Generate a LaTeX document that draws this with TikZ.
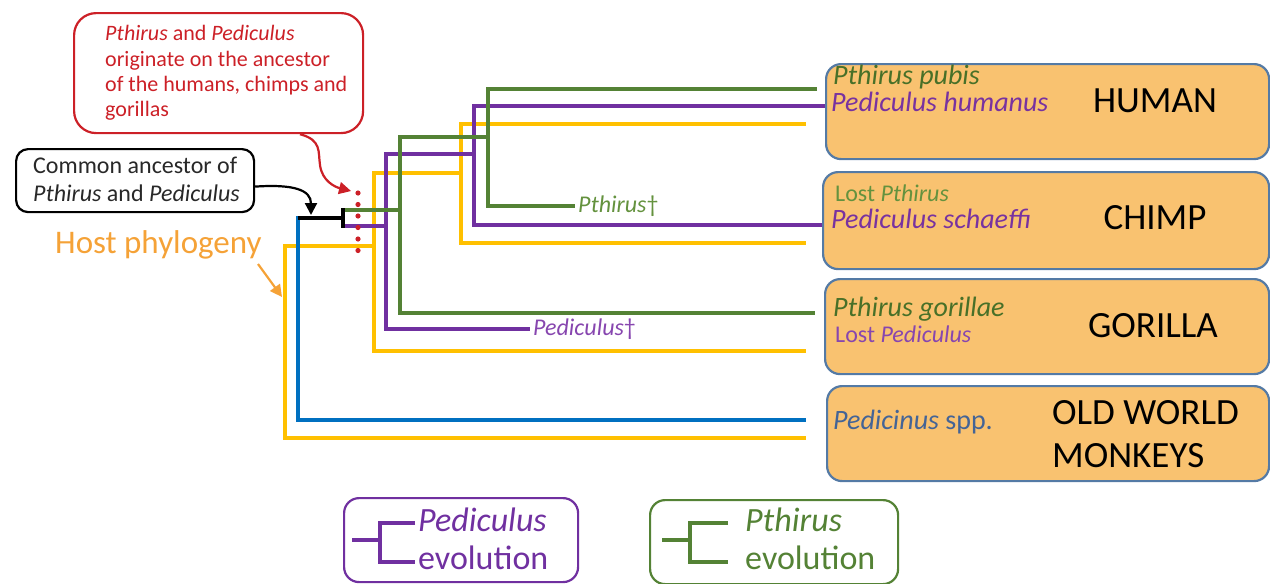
\documentclass[tikz,border=0pt]{standalone}
\usepackage{fontspec}
\setmainfont{Carlito}
\usetikzlibrary{arrows.meta}
\definecolor{lgreen}{RGB}{84,130,53}
\definecolor{lpurple}{RGB}{112,48,160}
\definecolor{lyellow}{RGB}{255,192,0}
\definecolor{lblue}{RGB}{0,112,192}
\definecolor{boxfill}{RGB}{249,194,112}
\definecolor{boxline}{RGB}{84,122,165}
\definecolor{cred}{RGB}{204,32,39}
\definecolor{corange}{RGB}{245,162,55}
\definecolor{tgreen}{RGB}{72,112,40}
\definecolor{tgreenl}{RGB}{100,146,62}
\definecolor{tpurple}{RGB}{120,50,160}
\definecolor{tpurplel}{RGB}{135,70,175}
\definecolor{tblue}{RGB}{68,100,150}
\definecolor{tdark}{RGB}{40,40,40}
\newcommand{\fsz}[2]{\fontsize{#1}{#2}\selectfont}
\begin{document}
\begin{tikzpicture}[x=1pt,y=-1pt,
  tree/.style={line width=3.4pt},
  hostbox/.style={draw=boxline, line width=2.2pt, fill=boxfill, rounded corners=15pt, anchor=north west, inner sep=0pt},
  spec/.style={anchor=west, inner sep=0pt, font=\fsz{28}{29}\itshape},
  small/.style={anchor=west, inner sep=0pt, font=\fsz{24}{26}},
  host/.style={inner sep=0pt, font=\fsz{37}{43}, text=black},
  legbox/.style={draw, line width=2.2pt, rounded corners=15pt, anchor=north west, inner sep=0pt},
  legtext/.style={anchor=west, inner sep=0pt, font=\fsz{34}{38}},
  arr/.style={line width=2.2pt, -{Triangle[length=12pt,width=12pt]}},
]
\useasboundingbox (0,0) rectangle (1270,584);

% host boxes
\node[hostbox, minimum width=443pt, minimum height=95pt] (human) at (825,63) {};
\node[hostbox, minimum width=446pt, minimum height=97pt] (chimp) at (822,171) {};
\node[hostbox, minimum width=444pt, minimum height=95pt] (gorilla) at (824,278) {};
\node[hostbox, minimum width=442pt, minimum height=95pt] (owm) at (826,385) {};

% texts in host boxes
\node[spec, text=tgreen] (ppubis) at (833,77) {Pthirus pubis};
\node[spec, text=tpurple] (phum) at (831,102) {Pediculus humanus};
\node[host] (humanlab) at (1155,101) {HUMAN};
\node[small, text=tgreenl] (lostpth) at (835,193) {Lost \textit{Pthirus}};
\node[spec, text=tpurple] (psch) at (831,219) {Pediculus schaeffi};
\node[host] (chimplab) at (1155,218) {CHIMP};
\node[spec, text=tgreen] (pgor) at (833,309) {Pthirus gorillae};
\node[small, text=tpurplel] (lostped) at (835,334) {Lost \textit{Pediculus}};
\node[host] (gorlab) at (1153,326) {GORILLA};
\node[spec, text=tblue] (pedic) at (833,422) {Pedicinus \upshape spp.};
\node[host, anchor=west, align=left] (owmlab) at (1052,434) {OLD WORLD\\MONKEYS};

% yellow host tree
\draw[tree, lyellow] (806,124) -- (461,124) -- (461,243) -- (806,243);
\draw[tree, lyellow] (461,173) -- (374,173) -- (374,351) -- (806,351);
\draw[tree, lyellow] (374,246) -- (285,246) -- (285,438) -- (806,438);
% blue
\draw[tree, lblue] (343,218) -- (298,218) -- (298,420) -- (806,420);
\draw[tree, black] (343,218) -- (298,218);
% purple tree
\draw[tree, lpurple] (human.west |- 0,106) -- (474,106) -- (474,225) -- (chimp.west |- 0,225);
\draw[tree, lpurple] (474,154) -- (386,154) -- (386,329) -- (530,329) coordinate (pedend);
\draw[tree, lpurple] (386,226) -- (343,226);
% green tree
\draw[tree, lgreen] (817,89) -- (488,89) -- (488,206) -- (575,206) coordinate (pthend);
\draw[tree, lgreen] (488,137) -- (400,137) -- (400,313) -- (815,313);
\draw[tree, lgreen] (400,210) -- (343,210);
% black tick
\draw[tree, black] (343,208.3) -- (343,227.7);

\node[anchor=west, inner sep=0pt, text=tgreenl, font=\fsz{24}{26}] (pthdead) at ([xshift=3pt]pthend) {\textit{Pthirus}†};
\node[anchor=west, inner sep=0pt, text=tpurplel, font=\fsz{24}{26}] (peddead) at ([xshift=3pt]pedend) {\textit{Pediculus}†};

% red dotted line
\foreach \yy in {193,204.5,216,227.5,239,250.5}
  \fill[cred] (358,\yy) circle (2.6pt);

% red callout
\node[draw=cred, line width=2.2pt, rounded corners=22pt, anchor=north west,
  minimum width=289pt, minimum height=120pt, inner sep=0pt] (note) at (73,12) {};
\node[anchor=west, inner sep=0pt, align=left, text=cred, font=\fsz{22}{25.5}] (notetext) at (105,73)
  {\textit{Pthirus} and \textit{Pediculus}\\originate on the ancestor\\of the humans, chimps and\\gorillas};
\draw[cred, arr]
  (note.south -| 300,0) .. controls (322,140) and (318,152) .. (320,165)
  .. controls (322,181) and (335,187) .. (351,191);

% black callout
\node[draw=black, line width=2.2pt, rounded corners=12pt, anchor=north west,
  minimum width=238pt, minimum height=63pt, inner sep=0pt] (anc) at (15,148) {};
\node[anchor=west, inner sep=0pt, align=left, text=tdark, font=\fsz{24}{27.5}] (anctext) at (33,179.5)
  {Common ancestor of\\\textit{Pthirus} and \textit{Pediculus}};
\coordinate (anctip) at (311,215);
\draw[black, arr]
  ([yshift=-6pt]anc.east) .. controls (294,184) and (311,190) .. (anctip);

% host phylogeny
\node[anchor=west, inner sep=0pt, text=corange, font=\fsz{33}{36}] (hostphy) at (55,245) {Host phylogeny};
\coordinate (hosttip) at (282,297);
\draw[corange, arr] (258,264) -- (hosttip);

% legend
\node[legbox, draw=lpurple, minimum width=234pt, minimum height=84pt] (legp) at (343,497) {};
\draw[lpurple, tree] (352,540) -- (380,540);
\draw[lpurple, tree] (415,523) -- (380,523) -- (380,562) -- (415,562);
\node[legtext, text=lpurple] (legpt1) at (418,520) {\textit{Pediculus}};
\node[legtext, text=lpurple] (legpt2) at (418,558) {evolution};

\node[legbox, draw=lgreen, minimum width=248pt, minimum height=84pt] (legg) at (649,499) {};
\draw[lgreen, tree] (662,540) -- (690,540);
\draw[lgreen, tree] (728,523) -- (690,523) -- (690,562) -- (728,562);
\node[legtext, text=lgreen] (leggt1) at (745,520) {\textit{Pthirus}};
\node[legtext, text=lgreen] (leggt2) at (745,558) {evolution};
\end{tikzpicture}
\end{document}
